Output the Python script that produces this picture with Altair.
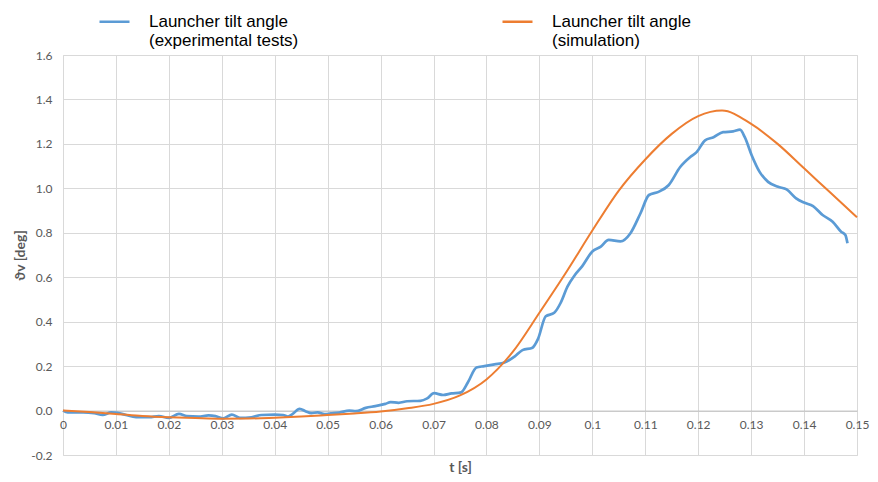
import altair as alt
import pandas as pd

# experimental tests (blue)
exp_t = [0.0, 0.0009, 0.0038, 0.0059, 0.0075, 0.0091, 0.0103, 0.0119, 0.0138, 0.0163,
         0.0181, 0.0200, 0.0219, 0.0234, 0.0256, 0.0275, 0.0288, 0.0303, 0.0319, 0.0334,
         0.0356, 0.0375, 0.0400, 0.0416, 0.0425, 0.0434, 0.0447, 0.0459, 0.0469, 0.0481,
         0.0494, 0.0506, 0.0522, 0.0541, 0.0553, 0.0572, 0.0590, 0.0609, 0.0619, 0.0634,
         0.0650, 0.0675, 0.0688, 0.0701, 0.0718, 0.0734, 0.0752, 0.0765, 0.0781, 0.0796,
         0.0815, 0.0834, 0.0853, 0.0868, 0.0887, 0.0897, 0.0912, 0.0928, 0.0940, 0.0953,
         0.0967, 0.0981, 0.1000, 0.1016, 0.1031, 0.1053, 0.1072, 0.1091, 0.1107, 0.1125,
         0.1144, 0.1166, 0.1185, 0.1197, 0.1213, 0.1229, 0.1247, 0.1266, 0.1279, 0.1288,
         0.1301, 0.1316, 0.1332, 0.1351, 0.1367, 0.1385, 0.1401, 0.1417, 0.1435, 0.1454,
         0.1470, 0.1478, 0.1482]
exp_v = [0.0, -0.008, -0.008, -0.012, -0.020, -0.008, -0.010, -0.020, -0.030, -0.030,
         -0.025, -0.033, -0.015, -0.025, -0.027, -0.022, -0.025, -0.035, -0.018, -0.033,
         -0.030, -0.020, -0.018, -0.020, -0.027, -0.015, 0.008, -0.004, -0.012, -0.008,
         -0.016, -0.013, -0.009, 0.0, -0.003, 0.012, 0.020, 0.030, 0.038, 0.035,
         0.042, 0.044, 0.055, 0.078, 0.070, 0.077, 0.082, 0.127, 0.194, 0.200,
         0.208, 0.216, 0.243, 0.272, 0.283, 0.320, 0.424, 0.440, 0.484, 0.558,
         0.610, 0.650, 0.716, 0.738, 0.768, 0.761, 0.798, 0.888, 0.970, 0.984,
         1.014, 1.096, 1.141, 1.163, 1.216, 1.230, 1.253, 1.256, 1.264, 1.230,
         1.149, 1.074, 1.029, 1.007, 0.995, 0.955, 0.935, 0.920, 0.880, 0.850,
         0.805, 0.790, 0.753]

# simulation (orange)
sim_t = [0.0, 0.005, 0.01, 0.015, 0.02, 0.025, 0.03, 0.035, 0.04, 0.045, 0.05, 0.055,
         0.06, 0.065, 0.07, 0.075, 0.08, 0.085, 0.09, 0.095, 0.1, 0.105, 0.11, 0.115,
         0.12, 0.1245, 0.13, 0.135, 0.14, 0.145, 0.15]
sim_v = [0.0, -0.007, -0.015, -0.024, -0.030, -0.034, -0.037, -0.036, -0.032, -0.027,
         -0.020, -0.013, -0.004, 0.010, 0.030, 0.068, 0.140, 0.265, 0.440, 0.620,
         0.810, 0.990, 1.130, 1.245, 1.325, 1.350, 1.290, 1.200, 1.090, 0.980, 0.870]

EXP = "Launcher tilt angle\n(experimental tests)"
SIM = "Launcher tilt angle\n(simulation)"
series_names = [EXP, SIM]
series_colors = ["#5B9BD5", "#ED7D31"]

x_ticks = [round(i * 0.01, 2) for i in range(16)]
y_ticks = [round(-0.2 + i * 0.2, 1) for i in range(10)]

df_exp = pd.DataFrame({"t": exp_t, "v": exp_v, "series": EXP})
df_sim = pd.DataFrame({"t": sim_t, "v": sim_v, "series": SIM})

GRID = "#D9D9D9"
LABEL = "#595959"

x_enc = alt.X(
    "t:Q",
    scale=alt.Scale(domain=[0, 0.15], nice=False, zero=False),
    axis=alt.Axis(
        values=x_ticks, format="~g", offset=-44.4, grid=True, gridColor=GRID,
        ticks=False, domain=True, domainColor="#BFBFBF", labelPadding=9,
        labelFlush=False, labelOverlap=False,
        labelFont="Lato", labelFontSize=12, labelColor=LABEL,
        title="t [s]", titleFont="Lato", titleFontSize=14, titleFontWeight="bold",
        titleColor=LABEL, titleY=57, titleBaseline="middle",
    ),
)
y_enc = alt.Y(
    "v:Q",
    scale=alt.Scale(domain=[-0.2, 1.6], nice=False, zero=False),
    axis=alt.Axis(
        values=y_ticks, grid=True, gridColor=GRID, ticks=False, domain=False,
        labelExpr="datum.value < 0 ? '-' + format(-datum.value, '.1f') : format(datum.value, '.1f')",
        labelPadding=11, labelFont="Lato", labelFontSize=12, labelColor=LABEL,
        title="ϑv [deg]", titleFont="Lato, DejaVu Sans", titleFontSize=14,
        titleFontWeight="bold", titleColor=LABEL, titlePadding=3,
    ),
)
color = alt.Color(
    "series:N",
    scale=alt.Scale(domain=series_names, range=series_colors),
    legend=alt.Legend(
        title=None, orient="none", legendX=35, legendY=-50, direction="horizontal",
        columns=2, columnPadding=198, symbolType="stroke", symbolSize=900,
        symbolStrokeWidth=2.5, labelExpr="split(datum.label, '\\n')",
        labelFont="Liberation Sans", labelFontSize=17, labelColor="#000000",
        labelOffset=18, labelLimit=400,
    ),
)

blue = alt.Chart(df_exp).mark_line(interpolate="monotone", strokeWidth=2.7).encode(
    x=x_enc, y=y_enc, color=color, order="t:Q"
)
orange = alt.Chart(df_sim).mark_line(interpolate="monotone", strokeWidth=2).encode(
    x=x_enc, y=y_enc, color=color, order="t:Q"
)

chart = alt.layer(blue, orange).properties(
    width=794, height=400,
    autosize=alt.AutoSizeParams(type="none"),
    padding={"left": 55, "top": 47, "right": 13, "bottom": 22},
).configure_view(stroke=None).configure(background="white")

chart.save("out.html", embed_options={"renderer": "svg", "actions": False})
